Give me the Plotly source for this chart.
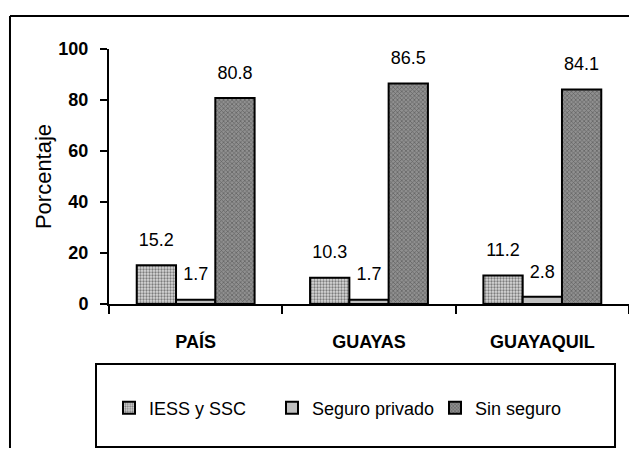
import plotly.graph_objects as go

categories = ["PAÍS", "GUAYAS", "GUAYAQUIL"]
series_names = ["IESS y SSC", "Seguro privado", "Sin seguro"]
iess = [15.2, 10.3, 11.2]
privado = [1.7, 1.7, 2.8]
sin_seguro = [80.8, 86.5, 84.1]
y_ticks = [0, 20, 40, 60, 80, 100]

FONT = "Liberation Sans, Arial, sans-serif"

styles = [
    dict(color="#b0b0b0", pattern=dict(shape=".", fgcolor="#202020", bgcolor="#d8d8d8", size=3, solidity=0.45)),
    dict(color="#c0c0c0"),
    dict(color="#707070", pattern=dict(shape="x", fgcolor="#303030", bgcolor="#909090", size=3, solidity=0.4)),
]

fig = go.Figure()
for i, (name, vals, st) in enumerate(zip(series_names, [iess, privado, sin_seguro], styles)):
    marker = dict(color=st["color"], line=dict(color="black", width=2))
    if "pattern" in st:
        marker["pattern"] = st["pattern"]
    fig.add_trace(go.Bar(
        name=name, x=categories, y=vals, marker=marker,
        offsetgroup=str(i), hoverinfo="skip",
    ))
for i, vals in enumerate([iess, privado, sin_seguro]):
    fig.add_trace(go.Scatter(
        x=categories, y=vals, mode="markers+text",
        text=[f"{v:.1f}" for v in vals], textposition="top center",
        textfont=dict(family=FONT, size=18, color="black"),
        marker=dict(size=22, opacity=0), offsetgroup=str(i),
        showlegend=False, cliponaxis=False, hoverinfo="skip",
    ))

fig.update_layout(
    width=621, height=440,
    margin=dict(l=101, r=0, t=41, b=144),
    paper_bgcolor="white", plot_bgcolor="white",
    barmode="group", bargap=0.32, bargroupgap=0,
    scattermode="group", scattergap=0.32,
    font=dict(family=FONT, color="black"),
    showlegend=True,
    legend=dict(orientation="h", x=0.0, xanchor="left", y=-0.408, yanchor="middle",
                font=dict(family=FONT, size=18, color="black"),
                entrywidth=118, entrywidthmode="pixels",
                bgcolor="rgba(0,0,0,0)", borderwidth=0, traceorder="normal"),
    xaxis=dict(type="category", showline=True, linecolor="black", linewidth=2,
               ticks="outside", tickson="boundaries", ticklen=8, tickwidth=2, tickcolor="black",
               tickfont=dict(family=FONT, size=18, color="black", weight="bold"),
               ticklabelstandoff=20, showgrid=False),
    yaxis=dict(range=[0, 100], tickvals=y_ticks, showline=True, linecolor="black", linewidth=2,
               ticks="outside", ticklen=7, tickwidth=2, tickcolor="black",
               tickfont=dict(family=FONT, size=18, color="black", weight="bold"),
               ticklabelstandoff=8, showgrid=False, zeroline=False,
               title=dict(text="Porcentaje", font=dict(family=FONT, size=22, color="black"), standoff=1)),
    shapes=[
        dict(type="line", xref="paper", yref="paper", x0=-0.1904, x1=1.0, y0=1.1294, y1=1.1294,
             line=dict(color="black", width=2)),
        dict(type="line", xref="paper", yref="paper", x0=-0.1904, x1=-0.1904, y0=-0.5647, y1=1.1294,
             line=dict(color="black", width=2)),
        dict(type="rect", xref="paper", yref="paper", x0=-0.025, x1=0.9731, y0=-0.5608, y1=-0.2353,
             line=dict(color="black", width=2), fillcolor="rgba(0,0,0,0)", layer="above"),
    ],
)

fig.write_html("out.html")
